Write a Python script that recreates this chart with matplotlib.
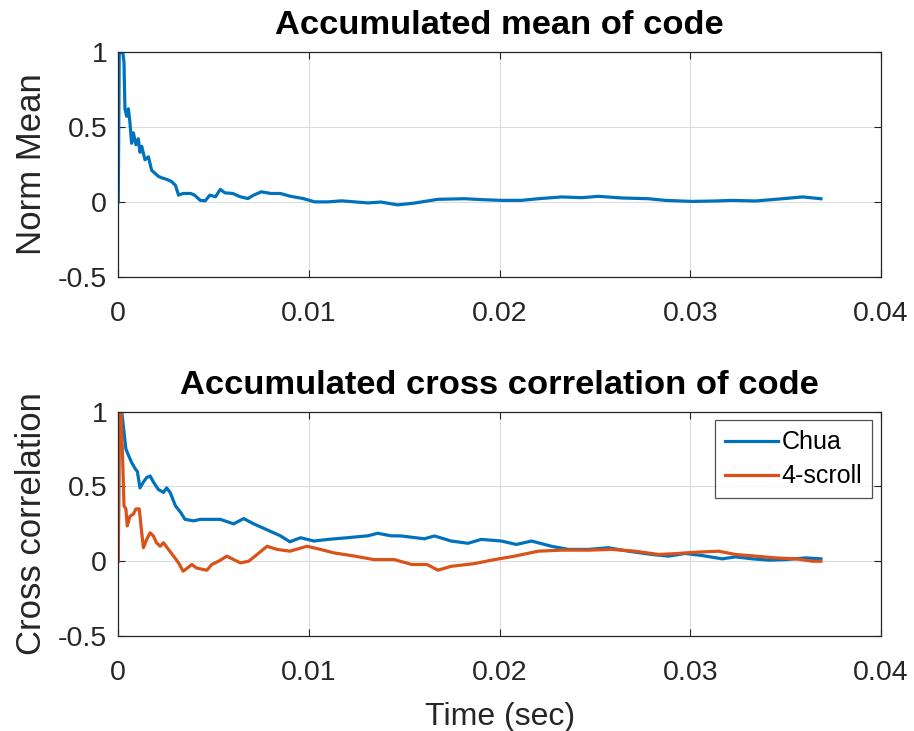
import matplotlib
matplotlib.use("Agg")
import matplotlib.pyplot as plt

plt.rcParams['font.family'] = ['Liberation Sans', 'DejaVu Sans']

# ---- data ----
mean_t = [0, 0.00005, 0.00023, 0.0003, 0.00035, 0.00044, 0.00053, 0.00061, 0.0007, 0.00079,
          0.00093, 0.00105, 0.00114, 0.00123, 0.0014, 0.00158, 0.00175, 0.00193, 0.0021, 0.00228,
          0.00254, 0.0028, 0.003, 0.00316, 0.0034, 0.0038, 0.004, 0.0043, 0.00456, 0.0048,
          0.0051, 0.00535, 0.0056, 0.006, 0.0064, 0.0068, 0.0071, 0.0075, 0.008, 0.0085,
          0.009, 0.0097, 0.0103, 0.011, 0.0117, 0.0124, 0.0131, 0.01377, 0.01465, 0.01553,
          0.01676, 0.01816, 0.01904, 0.02009, 0.02114, 0.02202, 0.02325, 0.0243, 0.02518, 0.0264,
          0.02781, 0.02868, 0.03009, 0.03132, 0.0322, 0.03342, 0.03483, 0.03588, 0.03685]
mean_v = [0, 0.99, 1.0, 0.93, 0.62, 0.57, 0.62, 0.53, 0.39, 0.46,
          0.38, 0.42, 0.33, 0.37, 0.28, 0.30, 0.21, 0.19, 0.17, 0.16,
          0.15, 0.135, 0.11, 0.045, 0.056, 0.056, 0.045, 0.01, 0.007, 0.045,
          0.034, 0.083, 0.06, 0.056, 0.034, 0.022, 0.045, 0.067, 0.056, 0.056,
          0.038, 0.022, 0.0, 0.0, 0.007, 0.0, -0.007, -0.001, -0.02, -0.008,
          0.017, 0.021, 0.015, 0.01, 0.01, 0.021, 0.033, 0.028, 0.037, 0.026,
          0.021, 0.01, 0.003, 0.006, 0.01, 0.006, 0.021, 0.033, 0.021]

chua_t = [0, 0.00005, 0.00018, 0.0003, 0.0004, 0.00053, 0.0007, 0.00088, 0.001, 0.00114,
          0.00132, 0.00149, 0.00167, 0.00184, 0.0021, 0.00237, 0.00254, 0.00272, 0.003, 0.00325,
          0.0035, 0.00395, 0.0043, 0.00482, 0.00535, 0.00605, 0.00658, 0.0071, 0.0078, 0.0085,
          0.009, 0.00956, 0.01026, 0.011, 0.012, 0.0131, 0.0136, 0.0143, 0.01483, 0.01605,
          0.01658, 0.01746, 0.01834, 0.01904, 0.02009, 0.02088, 0.02167, 0.02272, 0.0236, 0.02465,
          0.0257, 0.02676, 0.02798, 0.02886, 0.02974, 0.03062, 0.03167, 0.03237, 0.03325, 0.03413,
          0.035, 0.03605, 0.03685]
chua_v = [0, 0.99, 1.0, 0.865, 0.75, 0.71, 0.66, 0.62, 0.6, 0.49,
          0.53, 0.56, 0.57, 0.53, 0.48, 0.46, 0.49, 0.46, 0.37, 0.33,
          0.28, 0.27, 0.28, 0.28, 0.28, 0.25, 0.285, 0.25, 0.21, 0.17,
          0.13, 0.157, 0.135, 0.146, 0.157, 0.17, 0.187, 0.17, 0.169, 0.15,
          0.169, 0.135, 0.12, 0.146, 0.135, 0.112, 0.135, 0.1, 0.079, 0.079,
          0.09, 0.067, 0.045, 0.034, 0.052, 0.038, 0.016, 0.029, 0.016, 0.007,
          0.011, 0.022, 0.016]

scroll_t = [0, 0.00005, 0.00014, 0.00023, 0.0003, 0.0004, 0.00047, 0.00061, 0.00079, 0.00093,
            0.0011, 0.00123, 0.00132, 0.00149, 0.00167, 0.00184, 0.002, 0.0022, 0.00237, 0.00263,
            0.0029, 0.00316, 0.0034, 0.00363, 0.00386, 0.0041, 0.00447, 0.00465, 0.0049, 0.00526,
            0.0057, 0.00605, 0.0064, 0.00684, 0.00728, 0.0078, 0.00833, 0.009, 0.0099, 0.0106,
            0.0113, 0.0124, 0.0134, 0.01447, 0.0154, 0.0162, 0.01676, 0.01746, 0.01868, 0.01974,
            0.02079, 0.02202, 0.02325, 0.02465, 0.02588, 0.0271, 0.02834, 0.02939, 0.03026, 0.03149,
            0.03237, 0.03342, 0.03447, 0.03553, 0.0364, 0.03685]
scroll_v = [0, 0.955, 1.0, 0.685, 0.37, 0.35, 0.236, 0.30, 0.315, 0.35,
            0.35, 0.19, 0.09, 0.146, 0.19, 0.169, 0.124, 0.1, 0.124, 0.079,
            0.034, -0.011, -0.067, -0.045, -0.022, -0.045, -0.056, -0.06, -0.022, 0.0,
            0.034, 0.011, -0.011, 0.0, 0.045, 0.1, 0.079, 0.067, 0.1, 0.079,
            0.056, 0.034, 0.011, 0.011, -0.022, -0.022, -0.06, -0.034, -0.016, 0.011,
            0.034, 0.067, 0.074, 0.074, 0.079, 0.067, 0.045, 0.052, 0.06, 0.067,
            0.045, 0.034, 0.022, 0.016, 0.0, 0.0]

xticks = [0, 0.01, 0.02, 0.03, 0.04]
xticklabels = ['0', '0.01', '0.02', '0.03', '0.04']
yticks = [-0.5, 0, 0.5, 1]
yticklabels = ['-0.5', '0', '0.5', '1']

BLUE = '#0072BD'
ORANGE = '#D95319'
AX = '#262626'

fig = plt.figure(figsize=(9.14, 7.31), dpi=100)
ax1 = fig.add_axes([0.1294, 0.6211, 0.8345, 0.3082])
ax2 = fig.add_axes([0.1294, 0.1300, 0.8345, 0.3068])


def style(ax):
    ax.set_xlim(0, 0.04)
    ax.set_ylim(-0.5, 1)
    ax.set_xticks(xticks)
    ax.set_xticklabels(xticklabels)
    ax.set_yticks(yticks)
    ax.set_yticklabels(yticklabels)
    ax.grid(True, color='#dcdcdc', linewidth=0.8)
    ax.set_axisbelow(True)
    ax.tick_params(direction='in', length=5, width=0.8, colors=AX, labelsize=20.5,
                   top=True, right=True)
    ax.tick_params(axis='x', pad=17)
    ax.tick_params(axis='y', pad=8)
    for s in ax.spines.values():
        s.set_color(AX)
        s.set_linewidth(0.9)


ax1.plot(mean_t, mean_v, color=BLUE, lw=2.3)
style(ax1)
ax1.set_title('Accumulated mean of code', fontsize=24.8, fontweight='bold', pad=13)
ax1.set_ylabel('Norm Mean', fontsize=25, color=AX, labelpad=7)

ax2.plot(chua_t, chua_v, color=BLUE, lw=2.3, label='Chua')
ax2.plot(scroll_t, scroll_v, color=ORANGE, lw=2.3, label='4-scroll')
style(ax2)
ax2.set_title('Accumulated cross correlation of code', fontsize=24.8, fontweight='bold', pad=13)
ax2.set_ylabel('Cross correlation', fontsize=25, color=AX, labelpad=7)
ax2.set_xlabel('Time (sec)', fontsize=23, color=AX, labelpad=12)
leg = ax2.legend(loc='upper right', fontsize=18, frameon=True, fancybox=False,
                 edgecolor=AX, handlelength=2.1, handletextpad=0.15,
                 borderaxespad=0.35, borderpad=0.4, labelspacing=0.4)
leg.get_frame().set_linewidth(0.9)

fig.savefig('out.png', dpi=100, facecolor='white')
